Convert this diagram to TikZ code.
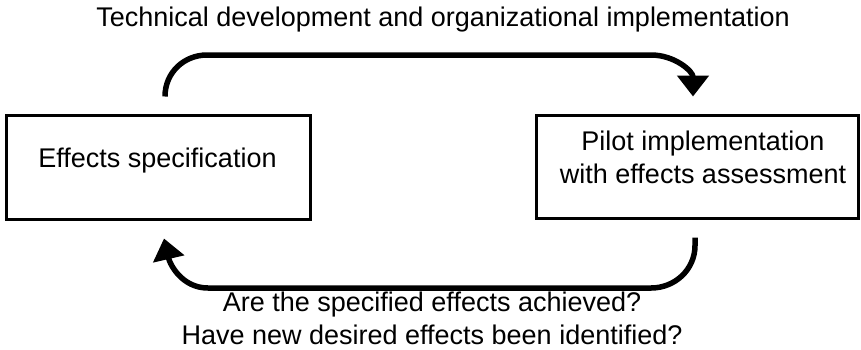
\documentclass[tikz,border=0pt]{standalone}
\usepackage{fontspec}
\setmainfont{Liberation Sans}
\usetikzlibrary{arrows.meta}
\begin{document}
\begin{tikzpicture}[x=1pt,y=-1pt,
  box/.style={draw=black, line width=3pt, fill=white, inner sep=0pt},
  lbl/.style={inner sep=0pt, anchor=base, align=center, font=\fontsize{27}{33}\selectfont},
  conn/.style={draw=black, line width=5.5pt,
    -{Triangle[length=21pt,width=31pt]}}]
\useasboundingbox (0,0) rectangle (861,349);
% boxes
\node[box, minimum width=304pt, minimum height=104pt] (spec) at (158,167) {};
\node[box, minimum width=322pt, minimum height=103pt] (pilot) at (697,166.5) {};
% texts (anchor = baseline of last line)
\node[lbl] (spectxt) at (157.5,167) {Effects specification};
\node[lbl] (pilottxt) at (703,183) {Pilot implementation\\with effects assessment};
\node[lbl] (toptxt) at (443,26) {Technical development and organizational implementation};
\node[lbl] (bottxt) at (432,344) {Are the specified effects achieved?\\Have new desired effects been identified?};
% connector anchors
\coordinate (s1) at ([xshift=7pt,yshift=17pt]spec.north);
\coordinate (e1) at ([xshift=-4pt,yshift=17pt]pilot.north);
\coordinate (t1) at ([xshift=42pt]s1 |- 0,55);
\coordinate (t2) at ([xshift=-42pt]e1 |- 0,55);
\coordinate (s2) at ([xshift=-2pt,yshift=-18pt]pilot.south);
\coordinate (s2a) at ([yshift=-8pt]s2);
\coordinate (e2) at ([xshift=6pt,yshift=-18pt]spec.south);
\coordinate (b1) at ([xshift=-44pt]s2 |- 0,288);
\coordinate (b2) at ([xshift=44pt]e2 |- 0,288);
% connectors
\draw[conn] (s1) .. controls +(0,-24) and +(-23,0) .. (t1) -- (t2)
  .. controls +(24,0) and +(0,-25) .. (e1);
\draw[conn] (s2) -- (s2a) .. controls +(0,24) and +(24,0) .. (b1) -- (b2)
  .. controls +(-26,0) and +(6,26) .. (e2);
\end{tikzpicture}
\end{document}
